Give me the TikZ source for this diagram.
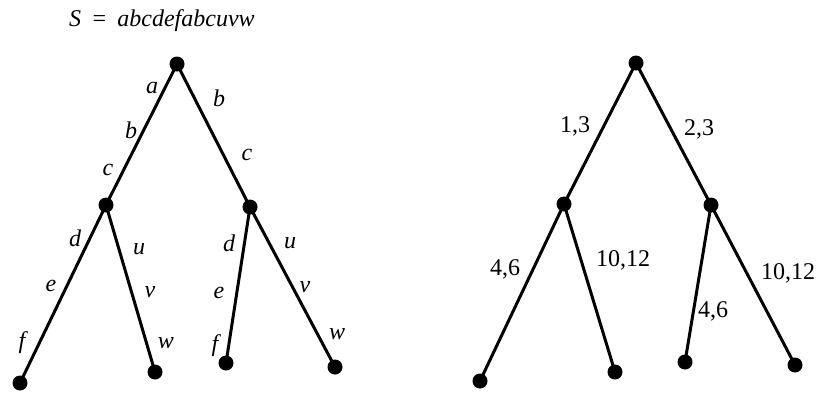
\documentclass[tikz,border=0pt]{standalone}
\usepackage{fontspec}
\setmainfont{Liberation Serif}
\begin{document}
\begin{tikzpicture}[x=1pt,y=-1pt,
  dot/.style={circle,fill=black,inner sep=0pt,minimum size=15pt},
  edge/.style={line width=3pt},
  lbl/.style={inner sep=0pt,font=\fontsize{24}{26}\selectfont\itshape},
  num/.style={inner sep=0pt,font=\fontsize{24}{26}\selectfont}]
\useasboundingbox (0,0) rectangle (818,392);
\node[lbl,anchor=base west] (title) at (69,26) {S\ \,=\ \,abcdefabcuvw};
% left tree
\node[dot] (r) at (177,64) {};
\node[dot] (l) at (106,205) {};
\node[dot] (m) at (250,207) {};
\node[dot] (l1) at (20,383) {};
\node[dot] (l2) at (155,372) {};
\node[dot] (m1) at (226,363) {};
\node[dot] (m2) at (335,367) {};
\draw[edge] (r.center) -- (l.center);
\draw[edge] (r.center) -- (m.center);
\draw[edge] (l.center) -- (l1.center);
\draw[edge] (l.center) -- (l2.center);
\draw[edge] (m.center) -- (m1.center);
\draw[edge] (m.center) -- (m2.center);
\node[lbl] (ta) at (152,88) {a};
\node[lbl] (tb) at (131,130) {b};
\node[lbl] (tc) at (108,170) {c};
\node[lbl] (tb2) at (219,98) {b};
\node[lbl] (tc2) at (247,155) {c};
\node[lbl] (td) at (75,238) {d};
\node[lbl] (te) at (51,286) {e};
\node[lbl] (tf) at (22,343) {f};
\node[lbl] (tu) at (139,249) {u};
\node[lbl] (tv) at (150,292) {v};
\node[lbl] (tw) at (166,343) {w};
\node[lbl] (td2) at (229,243) {d};
\node[lbl] (te2) at (219,293) {e};
\node[lbl] (tf2) at (215,346) {f};
\node[lbl] (tu2) at (290,243) {u};
\node[lbl] (tv2) at (305,287) {v};
\node[lbl] (tw2) at (337,334) {w};
% right tree
\node[dot] (R) at (636,63) {};
\node[dot] (L) at (564,204) {};
\node[dot] (M) at (711,205) {};
\node[dot] (L1) at (480,381) {};
\node[dot] (L2) at (615,372) {};
\node[dot] (M1) at (685,362) {};
\node[dot] (M2) at (795,365) {};
\draw[edge] (R.center) -- (L.center);
\draw[edge] (R.center) -- (M.center);
\draw[edge] (L.center) -- (L1.center);
\draw[edge] (L.center) -- (L2.center);
\draw[edge] (M.center) -- (M1.center);
\draw[edge] (M.center) -- (M2.center);
\node[num] (n13) at (575,126) {1,3};
\node[num] (n23) at (699,129) {2,3};
\node[num] (n46) at (505,269) {4,6};
\node[num] (n1012) at (623,260) {10,12};
\node[num] (n46b) at (713,311) {4,6};
\node[num] (n1012b) at (788,273) {10,12};
\end{tikzpicture}
\end{document}
